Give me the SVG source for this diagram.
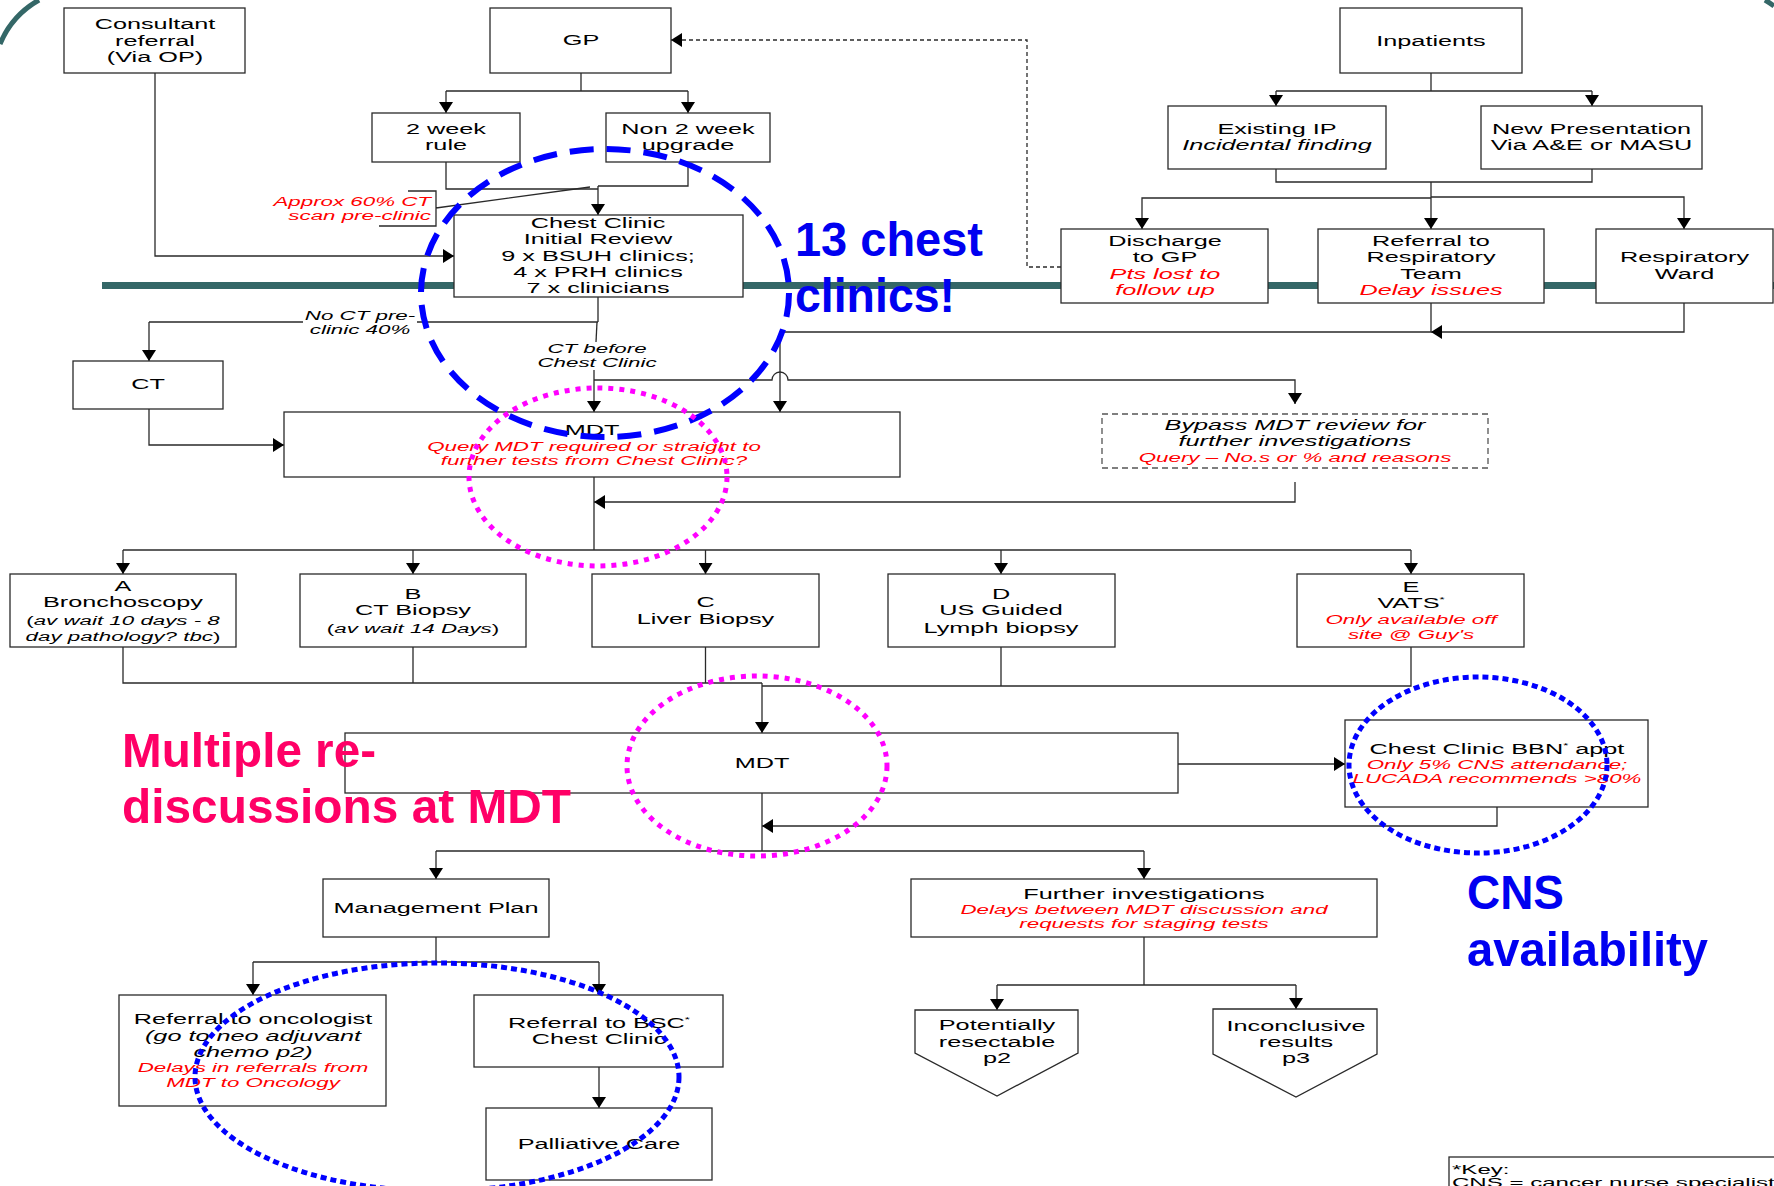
<svg xmlns="http://www.w3.org/2000/svg" width="1774" height="1186" viewBox="0 0 1774 1186">
  <defs>
    <marker id="ah" markerUnits="userSpaceOnUse" markerWidth="11" markerHeight="14" viewBox="0 0 11 14" refX="11" refY="7" orient="auto">
      <path d="M0,0 L11,7 L0,14 Z" fill="#000"/>
    </marker>
    <style>
      .box { fill: #fff; stroke: #2a2a2a; stroke-width: 1.3; }
      .dash { fill: #fff; stroke: #555; stroke-width: 1.3; stroke-dasharray: 6 4; }
      .c { fill: none; stroke: #2a2a2a; stroke-width: 1.3; }
      .ca { fill: none; stroke: #2a2a2a; stroke-width: 1.3; marker-end: url(#ah); }
      .t { font-family: "Liberation Sans", Arial, sans-serif; font-size: 15.5px; fill: #000; text-anchor: middle; }
      .s { font-size: 13.7px; }
      .i { font-style: italic; }
      .n { font-style: normal; }
      .r { fill: #ff0000; }
      .end { text-anchor: end; }
      .big { font-family: "Liberation Sans", Arial, sans-serif; font-weight: bold; font-size: 49px; }
      .blue { fill: #0000f0; }
      .pink { fill: #ff0066; }
      .teal { fill: none; stroke: #346767; stroke-width: 5; }
      .ring-blue-dash { fill: none; stroke: #0000ff; stroke-width: 6; stroke-dasharray: 24 13; }
      .ring-blue-dot { fill: none; stroke: #0000ff; stroke-width: 5; stroke-dasharray: 6 4; }
      .ring-pink-dot { fill: none; stroke: #ff00ff; stroke-width: 5; stroke-dasharray: 5 6; }
    </style>
  </defs>

  <rect x="0" y="0" width="1774" height="1186" fill="#fff"/>

  <!-- slide frame corners and divider band -->
  <path class="teal" d="M0,44 A90,90 0 0 1 39,0"/>
  <path class="teal" d="M1765,0 A90,90 0 0 1 1774,6"/>
  <rect x="102" y="282" width="1672" height="7" fill="#346767"/>

  <!-- connectors -->
  <g id="connectors">
    <path class="c" d="M581,73 V91 M446,91 H688"/>
    <path class="ca" d="M446,91 V113"/>
    <path class="ca" d="M688,91 V113"/>
    <path class="c" d="M446,162 V189 H598 M688,162 V186 H598"/>
    <path class="ca" d="M598,186 V215"/>
    <path class="ca" d="M155,73 V256 H454"/>
    <path class="ca" d="M1061,267 H1027 V40 H671" style="stroke-dasharray:4 3"/>
    <path class="c" d="M408,191 H436 V226 H379 M436,208 L590,187"/>

    <path class="c" d="M1431,73 V91 M1276,91 H1592"/>
    <path class="ca" d="M1276,91 V106"/>
    <path class="ca" d="M1592,91 V106"/>
    <path class="c" d="M1276,169 V182 H1592 V169"/>
    <path class="ca" d="M1431,182 V229"/>
    <path class="ca" d="M1431,198 H1142 V229"/>
    <path class="ca" d="M1431,197 H1684 V229"/>
    <path class="ca" d="M1684,303 V332 H1431"/>
    <path class="ca" d="M1431,303 V332 H780 V412"/>

    <path class="c" d="M598,297 V322 M598,322 H417 M303,322 H149"/>
    <path class="ca" d="M149,322 V361"/>
    <path class="c" d="M597,322 L596,342"/>
    <path class="ca" d="M594,370 V412"/>
    <path class="ca" d="M594,380 H772 A8,8 0 0 1 788,380 H1295 V404"/>
    <path class="ca" d="M149,409 V445 H284"/>
    <path class="ca" d="M1295,482 V502 H594"/>

    <path class="c" d="M594,477 V550 M123,550 H1411"/>
    <path class="ca" d="M123,550 V574"/>
    <path class="ca" d="M413,550 V574"/>
    <path class="ca" d="M705.5,550 V574"/>
    <path class="ca" d="M1001,550 V574"/>
    <path class="ca" d="M1411,550 V574"/>

    <path class="c" d="M123,647 V683 H762 M413,647 V683 M705.5,647 V683 M1001,647 V686 M1411,647 V686 H762"/>
    <path class="ca" d="M762,683 V733"/>
    <path class="ca" d="M1178,764 H1345"/>
    <path class="ca" d="M1497,807 V826 H762"/>

    <path class="c" d="M762,793 V851 M436,851 H1144"/>
    <path class="ca" d="M436,851 V879"/>
    <path class="ca" d="M1144,851 V879"/>
    <path class="c" d="M436,937 V962 M253,962 H599"/>
    <path class="ca" d="M253,962 V995"/>
    <path class="ca" d="M599,962 V995"/>
    <path class="ca" d="M599,1067 V1108"/>
    <path class="c" d="M1144,937 V985 M997,985 H1296"/>
    <path class="ca" d="M997,985 V1010"/>
    <path class="ca" d="M1296,985 V1009"/>
  </g>

  <!-- nodes -->
  <g id="consultant">
    <rect class="box" x="64" y="8" width="181" height="65"/>
    <text class="t" transform="translate(155 0) scale(1.63 1)"><tspan x="0" y="29">Consultant</tspan><tspan x="0" y="46">referral</tspan><tspan x="0" y="62.5">(Via OP)</tspan></text>
  </g>
  <g id="gp">
    <rect class="box" x="490" y="8" width="181" height="65"/>
    <text class="t" transform="translate(581 0) scale(1.63 1)"><tspan x="0" y="45.5">GP</tspan></text>
  </g>
  <g id="two-week">
    <rect class="box" x="372" y="113" width="148" height="49"/>
    <text class="t" transform="translate(446 0) scale(1.63 1)"><tspan x="0" y="134.5">2 week</tspan><tspan x="0" y="150.5">rule</tspan></text>
  </g>
  <g id="non-two-week">
    <rect class="box" x="606" y="113" width="164" height="49"/>
    <text class="t" transform="translate(688 0) scale(1.63 1)"><tspan x="0" y="134.5">Non 2 week</tspan><tspan x="0" y="150.5">upgrade</tspan></text>
  </g>
  <g id="ct-callout">
    <text class="t s i r end" transform="translate(431 0) scale(1.63 1)"><tspan x="0" y="206">Approx 60% CT</tspan><tspan x="0" y="220">scan pre-clinic</tspan></text>
  </g>
  <g id="chest-clinic">
    <rect class="box" x="454" y="215" width="289" height="82"/>
    <text class="t" transform="translate(598 0) scale(1.63 1)"><tspan x="0" y="228.5">Chest Clinic</tspan><tspan x="0" y="244.5">Initial Review</tspan><tspan x="0" y="261">9 x BSUH clinics;</tspan><tspan x="0" y="277.5">4 x PRH clinics</tspan><tspan x="0" y="293.5">7 x clinicians</tspan></text>
  </g>
  <g id="inpatients">
    <rect class="box" x="1340" y="8" width="182" height="65"/>
    <text class="t" transform="translate(1431 0) scale(1.63 1)"><tspan x="0" y="46.5">Inpatients</tspan></text>
  </g>
  <g id="existing-ip">
    <rect class="box" x="1168" y="106" width="218" height="63"/>
    <text class="t" transform="translate(1277 0) scale(1.63 1)"><tspan x="0" y="134.5">Existing IP</tspan><tspan class="i" x="0" y="150.5">Incidental finding</tspan></text>
  </g>
  <g id="new-presentation">
    <rect class="box" x="1481" y="106" width="221" height="63"/>
    <text class="t" transform="translate(1591.5 0) scale(1.63 1)"><tspan x="0" y="134.5">New Presentation</tspan><tspan x="0" y="150.5">Via A&amp;E or MASU</tspan></text>
  </g>
  <g id="discharge">
    <rect class="box" x="1061" y="229" width="207" height="74"/>
    <text class="t" transform="translate(1165 0) scale(1.63 1)"><tspan x="0" y="246.5">Discharge</tspan><tspan x="0" y="262.5">to GP</tspan><tspan class="i r" x="0" y="279.5">Pts lost to</tspan><tspan class="i r" x="0" y="295.5">follow up</tspan></text>
  </g>
  <g id="respiratory-team">
    <rect class="box" x="1318" y="229" width="226" height="74"/>
    <text class="t" transform="translate(1431 0) scale(1.63 1)"><tspan x="0" y="246.5">Referral to</tspan><tspan x="0" y="262.5">Respiratory</tspan><tspan x="0" y="279.5">Team</tspan><tspan class="i r" x="0" y="295.5">Delay issues</tspan></text>
  </g>
  <g id="respiratory-ward">
    <rect class="box" x="1596" y="229" width="177" height="74"/>
    <text class="t" transform="translate(1684.5 0) scale(1.63 1)"><tspan x="0" y="262.5">Respiratory</tspan><tspan x="0" y="279.5">Ward</tspan></text>
  </g>
  <g id="label-no-ct">
    <text class="t s i" transform="translate(360 0) scale(1.63 1)"><tspan x="0" y="320">No CT pre-</tspan><tspan x="0" y="334">clinic 40%</tspan></text>
  </g>
  <g id="label-ct-before">
    <text class="t s i" transform="translate(597 0) scale(1.63 1)"><tspan x="0" y="353">CT before</tspan><tspan x="0" y="367">Chest Clinic</tspan></text>
  </g>
  <g id="ct">
    <rect class="box" x="73" y="361" width="150" height="48"/>
    <text class="t" transform="translate(148 0) scale(1.63 1)"><tspan x="0" y="389.5">CT</tspan></text>
  </g>
  <g id="mdt-first">
    <rect class="box" x="284" y="412" width="616" height="65"/>
    <text class="t" transform="translate(592 0) scale(1.63 1)"><tspan x="0" y="435.5">MDT</tspan></text>
    <text class="t s i r" transform="translate(594 0) scale(1.63 1)"><tspan x="0" y="451">Query MDT required or straight to</tspan><tspan x="0" y="465">further tests from Chest Clinic?</tspan></text>
  </g>
  <g id="bypass">
    <rect class="dash" x="1102" y="414" width="386" height="54"/>
    <text class="t i" transform="translate(1295 0) scale(1.63 1)"><tspan x="0" y="430.5">Bypass MDT review for</tspan><tspan x="0" y="446.5">further investigations</tspan></text>
    <text class="t s i r" transform="translate(1295 0) scale(1.63 1)"><tspan x="0" y="462">Query – No.s or % and reasons</tspan></text>
  </g>
  <g id="bronchoscopy">
    <rect class="box" x="10" y="574" width="226" height="73"/>
    <text class="t" transform="translate(123 0) scale(1.63 1)"><tspan x="0" y="591.5">A</tspan><tspan x="0" y="607.5">Bronchoscopy</tspan></text>
    <text class="t s i" transform="translate(123 0) scale(1.63 1)"><tspan x="0" y="625"><tspan class="n">(</tspan>av wait 10 days - 8</tspan><tspan x="0" y="641">day pathology? tbc<tspan class="n">)</tspan></tspan></text>
  </g>
  <g id="ct-biopsy">
    <rect class="box" x="300" y="574" width="226" height="73"/>
    <text class="t" transform="translate(413 0) scale(1.63 1)"><tspan x="0" y="599.5">B</tspan><tspan x="0" y="615.5">CT Biopsy</tspan></text>
    <text class="t s i" transform="translate(413 0) scale(1.63 1)"><tspan x="0" y="633"><tspan class="n">(</tspan>av wait 14 Days<tspan class="n">)</tspan></tspan></text>
  </g>
  <g id="liver-biopsy">
    <rect class="box" x="592" y="574" width="227" height="73"/>
    <text class="t" transform="translate(705.5 0) scale(1.63 1)"><tspan x="0" y="607.5">C</tspan><tspan x="0" y="624.5">Liver Biopsy</tspan></text>
  </g>
  <g id="lymph-biopsy">
    <rect class="box" x="888" y="574" width="227" height="73"/>
    <text class="t" transform="translate(1001 0) scale(1.63 1)"><tspan x="0" y="599.5">D</tspan><tspan x="0" y="615.5">US Guided</tspan><tspan x="0" y="633.5">Lymph biopsy</tspan></text>
  </g>
  <g id="vats">
    <rect class="box" x="1297" y="574" width="227" height="73"/>
    <text class="t" transform="translate(1411 0) scale(1.63 1)"><tspan x="0" y="592.5">E</tspan><tspan x="0" y="608.5">VATS<tspan dy="-6" font-size="8">*</tspan></tspan></text>
    <text class="t s i r" transform="translate(1411 0) scale(1.63 1)"><tspan x="0" y="624">Only available off</tspan><tspan x="0" y="639">site @ Guy's</tspan></text>
  </g>
  <g id="mdt-second">
    <rect class="box" x="345" y="733" width="833" height="60"/>
    <text class="t" transform="translate(762 0) scale(1.63 1)"><tspan x="0" y="768.5">MDT</tspan></text>
  </g>
  <g id="bbn-appt">
    <rect class="box" x="1345" y="720" width="303" height="87"/>
    <text class="t" transform="translate(1497 0) scale(1.63 1)"><tspan x="0" y="754.5">Chest Clinic BBN<tspan dy="-6" font-size="8">*</tspan><tspan dy="6"> appt</tspan></tspan></text>
    <text class="t s i r" transform="translate(1497 0) scale(1.63 1)"><tspan x="0" y="769">Only 5% CNS attendance;</tspan><tspan x="0" y="783">LUCADA recommends &gt;80%</tspan></text>
  </g>
  <g id="management-plan">
    <rect class="box" x="323" y="879" width="226" height="58"/>
    <text class="t" transform="translate(436 0) scale(1.63 1)"><tspan x="0" y="913.5">Management Plan</tspan></text>
  </g>
  <g id="further-investigations">
    <rect class="box" x="911" y="879" width="466" height="58"/>
    <text class="t" transform="translate(1144 0) scale(1.63 1)"><tspan x="0" y="899.5">Further investigations</tspan></text>
    <text class="t s i r" transform="translate(1144 0) scale(1.63 1)"><tspan x="0" y="914">Delays between MDT discussion and</tspan><tspan x="0" y="928">requests for staging tests</tspan></text>
  </g>
  <g id="oncologist">
    <rect class="box" x="119" y="995" width="267" height="111"/>
    <text class="t" transform="translate(253 0) scale(1.63 1)"><tspan x="0" y="1024.5">Referral to oncologist</tspan><tspan class="i" x="0" y="1041.5">(go to neo adjuvant</tspan><tspan class="i" x="0" y="1057.5">chemo p2)</tspan></text>
    <text class="t s i r" transform="translate(253 0) scale(1.63 1)"><tspan x="0" y="1072">Delays in referrals from</tspan><tspan x="0" y="1087">MDT to Oncology</tspan></text>
  </g>
  <g id="bsc-clinic">
    <rect class="box" x="474" y="995" width="249" height="72"/>
    <text class="t" transform="translate(599 0) scale(1.63 1)"><tspan x="0" y="1028.5">Referral to BSC<tspan dy="-6" font-size="8">*</tspan></tspan><tspan x="0" y="1044.5">Chest Clinic</tspan></text>
  </g>
  <g id="palliative">
    <rect class="box" x="486" y="1108" width="226" height="72"/>
    <text class="t" transform="translate(599 0) scale(1.63 1)"><tspan x="0" y="1149.5">Palliative Care</tspan></text>
  </g>
  <g id="resectable">
    <polygon class="box" points="915,1010 1078,1010 1078,1053 997,1096 915,1053"/>
    <text class="t" transform="translate(997 0) scale(1.63 1)"><tspan x="0" y="1030.5">Potentially</tspan><tspan x="0" y="1047.5">resectable</tspan><tspan x="0" y="1063.5">p2</tspan></text>
  </g>
  <g id="inconclusive">
    <polygon class="box" points="1213,1009 1377,1009 1377,1054 1296,1097 1213,1054"/>
    <text class="t" transform="translate(1296 0) scale(1.63 1)"><tspan x="0" y="1031.5">Inconclusive</tspan><tspan x="0" y="1047.5">results</tspan><tspan x="0" y="1063.5">p3</tspan></text>
  </g>
  <g id="key">
    <rect class="box" x="1449" y="1157" width="340" height="40"/>
    <text class="t" style="text-anchor:start;font-size:13px" transform="translate(1452 0) scale(1.85 1)"><tspan x="0" y="1174">*Key:</tspan><tspan x="0" y="1187">CNS = cancer nurse specialist</tspan></text>
  </g>

  <!-- highlight rings -->
  <g id="highlights">
    <ellipse class="ring-blue-dash" cx="605" cy="293" rx="184" ry="144"/>
    <ellipse class="ring-pink-dot" cx="598" cy="477" rx="129" ry="89"/>
    <ellipse class="ring-pink-dot" cx="757" cy="766" rx="130" ry="90"/>
    <ellipse class="ring-blue-dot" cx="1478" cy="765" rx="129" ry="88"/>
    <ellipse class="ring-blue-dot" cx="437" cy="1077" rx="242" ry="114"/>
  </g>

  <!-- annotations -->
  <g id="annotations">
    <text class="big blue" x="795" y="256" textLength="188" lengthAdjust="spacingAndGlyphs">13 chest</text>
    <text class="big blue" x="795" y="312" textLength="160" lengthAdjust="spacingAndGlyphs">clinics!</text>
    <text class="big pink" x="122" y="767" textLength="254" lengthAdjust="spacingAndGlyphs">Multiple re-</text>
    <text class="big pink" x="122" y="823" textLength="449" lengthAdjust="spacingAndGlyphs">discussions at MDT</text>
    <text class="big blue" x="1467" y="909" textLength="97" lengthAdjust="spacingAndGlyphs">CNS</text>
    <text class="big blue" x="1467" y="966" textLength="241" lengthAdjust="spacingAndGlyphs">availability</text>
  </g>
</svg>
